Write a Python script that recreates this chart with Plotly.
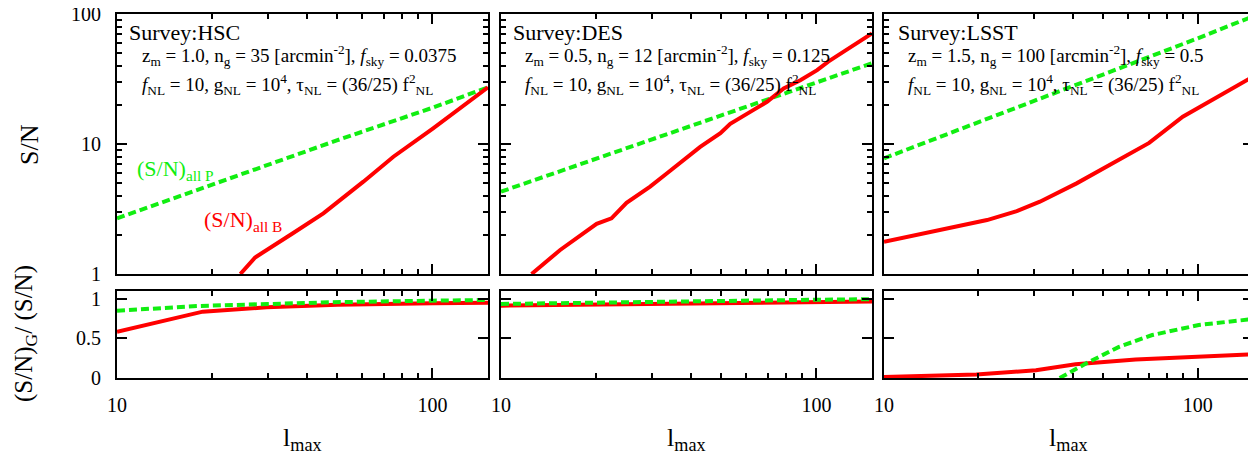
import math
import plotly.graph_objects as go

# ---------------- data ----------------
# HSC
hsc_ell_B = [24.6, 27.4, 36.0, 45.1, 60.4, 75.2, 100.5, 125.0, 150.0]
hsc_SN_B = [1.0, 1.34, 2.05, 2.93, 5.13, 7.98, 13.2, 19.6, 27.3]
hsc_ell_P = [10, 20, 50, 100, 150]
hsc_SN_P = [2.68, 4.85, 10.7, 19.0, 27.3]
hsc_ell_rB = [10, 18.7, 29.8, 50, 100, 150]
hsc_ratio_B = [0.585, 0.839, 0.894, 0.925, 0.945, 0.950]
hsc_ell_rP = [10, 18.3, 30, 48.3, 100, 150]
hsc_ratio_P = [0.851, 0.911, 0.935, 0.958, 0.978, 0.987]

# DES
des_ell_B = [12.5, 15.4, 20.1, 22.4, 25.0, 29.7, 33.6, 39.8, 42.8, 49.6, 53.3,
             63.2, 69.7, 78.7, 88.9, 100.5, 109, 122, 136, 150]
des_SN_B = [1.0, 1.53, 2.43, 2.68, 3.53, 4.7, 5.96, 8.2, 9.5, 12.1, 14.3,
            18.3, 21.1, 26.8, 30.9, 37.0, 43.0, 51.3, 61.2, 71.0]
des_ell_P = [10, 20, 50, 100, 150]
des_SN_P = [4.3, 7.7, 16.6, 29.6, 41.8]
des_ell_rB = [10, 20, 50, 100, 150]
des_ratio_B = [0.915, 0.930, 0.948, 0.960, 0.966]
des_ell_rP = [10, 20, 50, 100, 150]
des_ratio_P = [0.936, 0.955, 0.975, 0.990, 0.996]

# LSST
lsst_ell_B = [10, 21.3, 26.5, 31.4, 41.1, 53.7, 70.0, 89.6, 120.0, 150.0]
lsst_SN_B = [1.77, 2.6, 3.05, 3.6, 4.98, 7.1, 10.2, 16.2, 24.5, 33.0]
lsst_ell_P = [10, 20, 50, 100, 150]
lsst_SN_P = [7.76, 14.7, 34.3, 65.0, 96.0]
lsst_ell_rB = [10, 19.7, 30.5, 40.8, 63.4, 100.7, 150]
lsst_ratio_B = [0.013, 0.043, 0.098, 0.174, 0.234, 0.267, 0.300]
lsst_ell_rP = [36.3, 44.0, 56.1, 71.6, 100.7, 150]
lsst_ratio_P = [0.0, 0.183, 0.394, 0.543, 0.670, 0.746]

surveys = ["HSC", "DES", "LSST"]
params = [
    "z<sub>m</sub> = 1.0, n<sub>g</sub> = 35 [arcmin<sup>-2</sup>], <i>f</i><sub>sky</sub> = 0.0375",
    "z<sub>m</sub> = 0.5, n<sub>g</sub> = 12 [arcmin<sup>-2</sup>], <i>f</i><sub>sky</sub> = 0.125",
    "z<sub>m</sub> = 1.5, n<sub>g</sub> = 100 [arcmin<sup>-2</sup>], <i>f</i><sub>sky</sub> = 0.5",
]
nl_line = "<i>f</i><sub>NL</sub> = 10, g<sub>NL</sub> = 10<sup>4</sup>, τ<sub>NL</sub> = (36/25) f<sup>2</sup><sub>NL</sub>"

x_major = [10, 100]
x_minor = [20, 30, 40, 50, 60, 70, 80, 90]
y_major = [1, 10, 100]
y_minor = [2, 3, 4, 5, 6, 7, 8, 9, 20, 30, 40, 50, 60, 70, 80, 90]
r_major = [0, 0.5, 1]

RED = "#ff0000"
GREEN = "#11ee11"
FONT = "Liberation Serif"
OFF = 8                    # page body margin of the html
W, H = 1256 - OFF, 455 - OFF


def px(x):
    return (x - OFF) / W


def py(y):
    return 1 - (y - OFF) / H


col_px = [(117, 488), (501, 872), (884, 1253)]
top_px = (14, 274)
bot_px = (291, 378)

fig = go.Figure()

sets = [
    (hsc_ell_B, hsc_SN_B, hsc_ell_P, hsc_SN_P, hsc_ell_rB, hsc_ratio_B, hsc_ell_rP, hsc_ratio_P),
    (des_ell_B, des_SN_B, des_ell_P, des_SN_P, des_ell_rB, des_ratio_B, des_ell_rP, des_ratio_P),
    (lsst_ell_B, lsst_SN_B, lsst_ell_P, lsst_SN_P, lsst_ell_rB, lsst_ratio_B, lsst_ell_rP, lsst_ratio_P),
]

xr = [1, math.log10(150)]

common_axis = dict(showline=True, linecolor="black", linewidth=2, mirror="ticks",
                   ticks="inside", tickcolor="black", tickwidth=1.5, showgrid=False,
                   zeroline=False, automargin=False, ticklabeloverflow="allow",
                   tickfont=dict(family=FONT, size=20, color="black"))

for i, (eB, sB, eP, sP, erB, rB, erP, rP) in enumerate(sets):
    xt = 2 * i + 1   # top axis index
    xb = 2 * i + 2   # bottom axis index
    sx_t = "" if xt == 1 else str(xt)
    sx_b = str(xb)
    fig.add_trace(go.Scatter(x=eP, y=sP, mode="lines", line=dict(color=GREEN, width=4, dash="8px,4px"),
                             xaxis="x" + sx_t, yaxis="y" + sx_t, showlegend=False))
    fig.add_trace(go.Scatter(x=eB, y=sB, mode="lines", line=dict(color=RED, width=4),
                             xaxis="x" + sx_t, yaxis="y" + sx_t, showlegend=False))
    fig.add_trace(go.Scatter(x=erB, y=rB, mode="lines", line=dict(color=RED, width=4),
                             xaxis="x" + sx_b, yaxis="y" + sx_b, showlegend=False))
    fig.add_trace(go.Scatter(x=erP, y=rP, mode="lines", line=dict(color=GREEN, width=4, dash="8px,4px"),
                             xaxis="x" + sx_b, yaxis="y" + sx_b, showlegend=False))

    x0, x1 = col_px[i]
    dom_x = [px(x0), px(x1)]
    fig.layout["xaxis" + sx_t] = dict(common_axis, type="log", range=xr, domain=dom_x,
                                      anchor="y" + sx_t, tickvals=x_major, ticklen=10,
                                      showticklabels=False,
                                      minor=dict(tickvals=x_minor, ticks="inside", ticklen=5,
                                                 tickcolor="black", tickwidth=1.5))
    fig.layout["yaxis" + sx_t] = dict(common_axis, type="log", range=[0, 2],
                                      domain=[py(top_px[1]), py(top_px[0])],
                                      anchor="x" + sx_t, tickvals=y_major, ticklen=10,
                                      showticklabels=(i == 0), ticklabelstandoff=10,
                                      minor=dict(tickvals=y_minor, ticks="inside", ticklen=5,
                                                 tickcolor="black", tickwidth=1.5))
    fig.layout["xaxis" + sx_b] = dict(common_axis, type="log", range=xr, domain=dom_x,
                                      anchor="y" + sx_b, tickvals=x_major, ticklen=10,
                                      showticklabels=True, ticklabelstandoff=8,
                                      minor=dict(tickvals=x_minor, ticks="inside", ticklen=5,
                                                 tickcolor="black", tickwidth=1.5))
    fig.layout["yaxis" + sx_b] = dict(common_axis, range=[0, 1.1],
                                      domain=[py(bot_px[1]), py(bot_px[0])],
                                      anchor="x" + sx_b, tickvals=r_major, ticklen=10,
                                      showticklabels=(i == 0), ticklabelstandoff=10)


def ann(x, y, text, size, color="black", xanchor="left", angle=0):
    return dict(x=px(x), y=py(y), xref="paper", yref="paper", text=text,
                xanchor=xanchor, yanchor="middle", showarrow=False, textangle=angle,
                font=dict(family=FONT, size=size, color=color))


annotations = []
title_x = [127, 511, 896]
param_x = [140, 523, 906]
for i in range(3):
    annotations.append(ann(title_x[i], 33, "Survey:" + surveys[i], 22))
    annotations.append(ann(param_x[i], 56, params[i], 19))
    annotations.append(ann(param_x[i], 84, nl_line, 19))
    cx = (col_px[i][0] + col_px[i][1]) / 2
    annotations.append(ann(cx, 439, "l<sub>max</sub>", 26, xanchor="center"))

annotations.append(ann(135, 170, "(S/N)<sub>all P</sub>", 22, color=GREEN))
annotations.append(ann(202, 221, "(S/N)<sub>all B</sub>", 22, color=RED))
annotations.append(ann(30, 145, "S/N", 26, xanchor="center", angle=-90))
annotations.append(ann(25, 334, "(S/N)<sub>G</sub>/ (S/N)", 25, xanchor="center", angle=-90))

fig.update_layout(width=W, height=H, margin=dict(l=0, r=0, t=0, b=0, autoexpand=False),
                  paper_bgcolor="white", plot_bgcolor="white",
                  annotations=annotations, showlegend=False)

fig.write_html("out.html")
